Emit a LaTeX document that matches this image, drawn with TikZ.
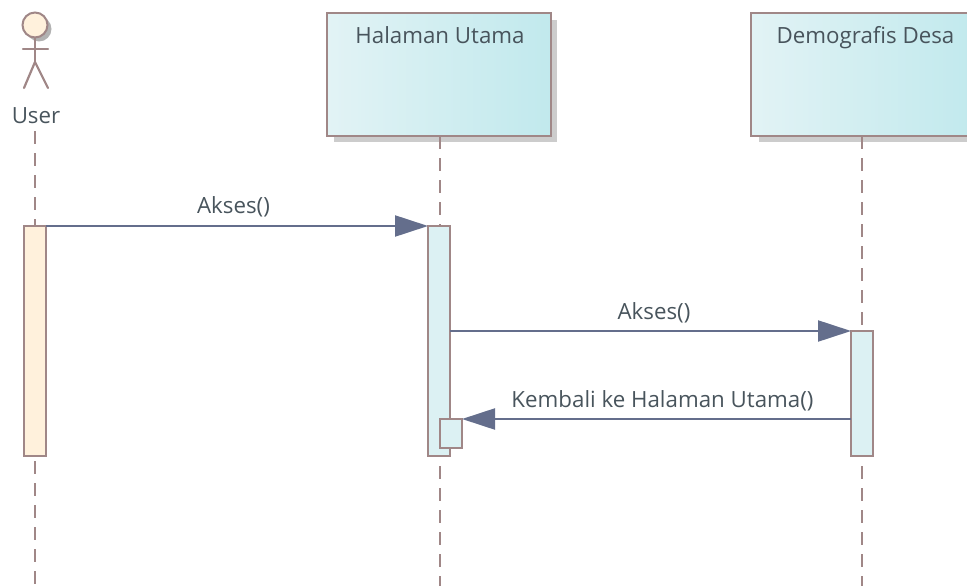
\documentclass[tikz,border=0pt]{standalone}
\usepackage{fontspec}
\setmainfont{Open Sans}
\usetikzlibrary{arrows.meta,positioning}
\definecolor{edge}{RGB}{160,135,135}
\definecolor{txt}{RGB}{72,84,92}
\definecolor{msg}{RGB}{100,110,140}
\definecolor{cyanL}{RGB}{226,243,245}
\definecolor{cyanR}{RGB}{193,233,237}
\definecolor{barC}{RGB}{220,241,243}
\definecolor{cream}{RGB}{255,241,220}
\tikzset{
  lifebox/.style={draw=edge,line width=2.2pt,left color=cyanL,right color=cyanR,minimum height=123pt,anchor=north west,inner sep=0pt,outer sep=0pt},
  bar/.style={draw=edge,line width=2.2pt,fill=barC,minimum width=22pt,anchor=north west,inner sep=0pt,outer sep=0pt},
  lifeline/.style={draw=edge,line width=2pt,dash pattern=on 13pt off 9pt},
  msgline/.style={draw=msg,line width=2.2pt,-{Triangle[length=33pt,width=21pt,fill=msg]}},
  label/.style={text=txt,font=\fontsize{22.3pt}{26pt}\selectfont,inner sep=0pt},
  limb/.style={draw=edge,line width=2.2pt,line cap=round}
}
\begin{document}
\begin{tikzpicture}[x=1pt,y=-1pt]
\useasboundingbox (0,0) rectangle (967,586);
\clip (0,0) rectangle (967,586);
% shadows
\fill[black!20] (334,20) rectangle (557,142);
\fill[black!20] (759,20) rectangle (985,142);
\fill[black!30] (39,29) circle (12.5);
% free ends
\coordinate (endU) at (35,586);
\coordinate (endH) at (439.5,586);
\coordinate (endD) at (862,586);
% lifeline boxes
\node[lifebox,minimum width=224pt] (halaman) at (327,13) {};
\node[label,anchor=base] at (440,43.5) {Halaman Utama};
\node[lifebox,minimum width=225pt] (demo) at (751,13) {};
\node[label,anchor=base] at (865.5,43.5) {Demografis Desa};
% actor
\node[circle,draw=edge,line width=2pt,fill=cream,minimum size=25pt,inner sep=0pt,outer sep=0pt] (head) at (35,25) {};
\coordinate (hip) at (35,62);
\coordinate (armL) at (23,49);
\coordinate (armR) at (48,49);
\coordinate (footL) at (24,88);
\coordinate (footR) at (48,88);
\draw[limb] (head.south) -- (hip);
\draw[limb] (armL) -- (armR);
\draw[limb] (footL) -- (hip) -- (footR);
\node[label,anchor=base] (user) at (36,123) {User};
% lifelines
\coordinate (startU) at (35,131);
\draw[lifeline] (startU) -- (endU);
\draw[lifeline] (halaman.south -| endH) -- (endH);
\draw[lifeline] (demo.south -| endD) -- (endD);
% activations
\node[bar,fill=cream,minimum height=230pt] (aU) at (24,226) {};
\node[bar,minimum height=230pt] (aH) at (428,226) {};
\node[bar,minimum height=125pt] (aD) at (851,331) {};
\node[bar,minimum height=29pt] (aS) at (440,419) {};
% messages
\draw[msgline] (aU.north east) -- (aH.north west);
\draw[msgline] (aH.east |- aD.north) -- (aD.north west);
\draw[msgline] (aD.west |- aS.north) -- (aS.north east);
\node[label,anchor=base] at (233.5,213) {Akses()};
\node[label,anchor=base] at (654,319) {Akses()};
\node[label,anchor=base] at (662.5,407) {Kembali ke Halaman Utama()};
\end{tikzpicture}
\end{document}
